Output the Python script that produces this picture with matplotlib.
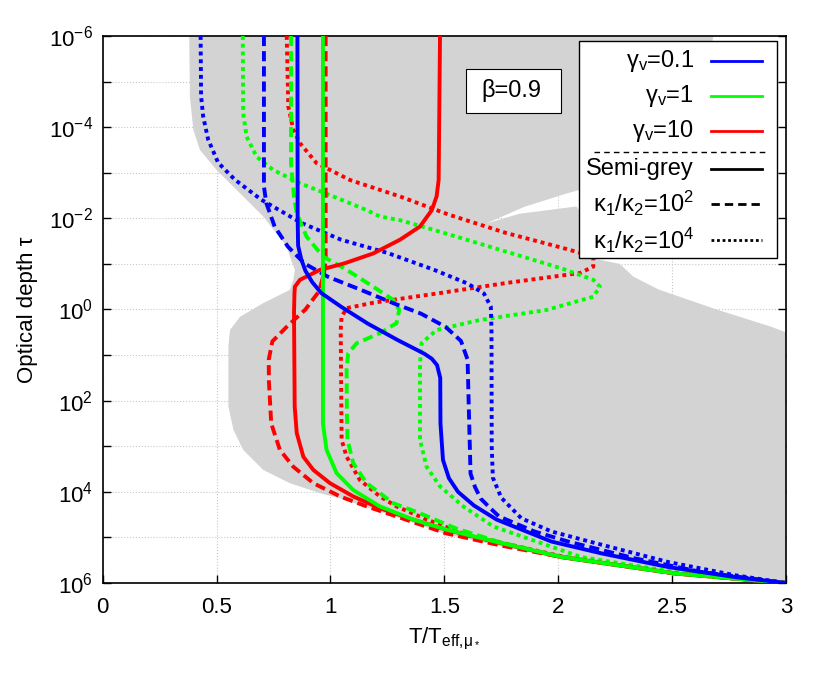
import matplotlib
matplotlib.use("Agg")
import matplotlib.pyplot as plt
import numpy as np
from matplotlib.patches import Rectangle
from matplotlib.ticker import FixedLocator, FuncFormatter, NullLocator

plt.rcParams['font.family'] = ['Liberation Sans', 'DejaVu Sans']
plt.rcParams['mathtext.fontset'] = 'custom'
plt.rcParams['mathtext.rm'] = 'Liberation Sans'
plt.rcParams['mathtext.it'] = 'Liberation Sans:italic'
plt.rcParams['mathtext.bf'] = 'Liberation Sans:bold'

# --- data: T/Teff and log10(tau) ---
# gamma_v = 0.1 (blue)
blue_solid_T = [0.855, 0.856, 0.858, 0.872, 0.89, 0.92, 0.96, 1.047, 1.164, 1.295, 1.412, 1.445, 1.468,
                1.482, 1.483, 1.494, 1.52, 1.56, 1.63, 1.73, 1.85, 1.97, 2.19, 2.483, 2.777, 3.0]
blue_solid_L = [-6, -2.0, -1.4, -1.1, -0.85, -0.6, -0.36, -0.06, 0.31, 0.67, 0.97, 1.08, 1.22,
                1.5, 2.5, 3.3, 3.7, 4.0, 4.3, 4.61, 4.85, 5.09, 5.35, 5.65, 5.87, 6.0]
blue_dash_T = [0.708, 0.708, 0.718, 0.755, 0.813, 0.886, 0.988, 1.134, 1.28, 1.397, 1.505, 1.573,
               1.602, 1.608, 1.615, 1.635, 1.66, 1.7, 1.74, 1.896, 2.043, 2.337, 2.63, 3.0]
blue_dash_L = [-6, -2.7, -2.34, -1.82, -1.38, -1.01, -0.72, -0.43, -0.13, 0.09, 0.38, 0.69,
               1.1, 2.27, 3.6, 3.9, 4.15, 4.35, 4.54, 4.87, 5.09, 5.46, 5.76, 6.0]
blue_dot_T = [0.43, 0.432, 0.441, 0.463, 0.507, 0.58, 0.696, 0.872, 1.047, 1.251, 1.455, 1.602,
              1.674, 1.704, 1.707, 1.708, 1.713, 1.75, 1.838, 1.97, 2.19, 2.483, 2.777, 3.0]
blue_dot_L = [-6, -4.69, -4.24, -3.73, -3.22, -2.85, -2.41, -1.9, -1.53, -1.24, -0.87, -0.57,
              -0.35, -0.06, 0.45, 3.0, 3.69, 4.13, 4.58, 4.87, 5.16, 5.54, 5.83, 6.0]

# gamma_v = 1 (green)
green_solid_T = [0.967, 0.967, 0.983, 1.027, 1.1, 1.217, 1.364, 1.51, 1.73, 2.014, 2.513, 3.0]
green_solid_L = [-6, 2.5, 3.08, 3.59, 3.96, 4.32, 4.61, 4.83, 5.1, 5.43, 5.79, 6.0]
green_dash_T = [0.827, 0.827, 0.84, 0.852, 0.895, 0.968, 1.071, 1.188, 1.276, 1.302, 1.29, 1.217,
                1.115, 1.078, 1.071, 1.072, 1.075, 1.1, 1.159, 1.276, 1.393, 1.55, 1.74, 2.02, 2.52, 3.0]
green_dash_L = [-6, -3.2, -2.47, -2.11, -1.6, -1.16, -0.87, -0.5, -0.21, 0.01, 0.3, 0.52,
                0.74, 0.96, 1.3, 2.27, 2.86, 3.37, 3.81, 4.25, 4.47, 4.8, 5.1, 5.43, 5.79, 6.0]
green_dot_T = [0.615, 0.617, 0.632, 0.676, 0.749, 0.866, 1.012, 1.159, 1.217, 1.305, 1.451, 1.598,
               1.744, 1.89, 2.015, 2.154, 2.183, 2.154, 1.949, 1.656, 1.466, 1.4, 1.393, 1.393,
               1.422, 1.481, 1.583, 1.715, 1.893, 2.1, 2.55, 3.0]
green_dot_L = [-6, -4.3, -3.79, -3.35, -3.06, -2.77, -2.48, -2.18, -2.04, -1.96, -1.75, -1.53,
               -1.31, -1.09, -0.9, -0.65, -0.5, -0.28, 0.01, 0.23, 0.45, 0.74, 1.2, 2.86,
               3.45, 3.88, 4.32, 4.76, 5.07, 5.43, 5.79, 6.0]

# gamma_v = 10 (red)
red_solid_T = [1.481, 1.475, 1.466, 1.445, 1.393, 1.305, 1.188, 1.06, 0.954, 0.866, 0.844, 0.842,
               0.84, 0.843, 0.852, 0.881, 0.925, 0.998, 1.1, 1.217, 1.364, 1.51, 1.656, 2.01, 2.51, 3.0]
red_solid_L = [-6, -2.84, -2.48, -2.18, -1.82, -1.53, -1.23, -1.01, -0.87, -0.65, -0.5, -0.36,
               0.07, 2.13, 2.71, 3.23, 3.52, 3.81, 4.1, 4.36, 4.61, 4.83, 5.02, 5.43, 5.79, 6.0]
red_dash_T = [0.979, 0.979, 0.972, 0.95, 0.89, 0.81, 0.745, 0.729, 0.73, 0.74, 0.778, 0.837,
              0.925, 1.042, 1.159, 1.29, 1.507, 1.75, 2.014, 2.513, 3.0]
red_dash_L = [-6, -1.1, -0.8, -0.4, 0.0, 0.37, 0.7, 1.1, 1.6, 2.5, 3.08, 3.45,
              3.81, 4.1, 4.32, 4.54, 4.91, 5.18, 5.43, 5.79, 6.0]
red_dot_T = [0.808, 0.815, 0.837, 0.866, 0.939, 1.086, 1.305, 1.52, 1.77, 2.02, 2.154, 2.154,
             2.095, 1.77, 1.48, 1.19, 1.071, 1.049, 1.045, 1.049, 1.071, 1.129, 1.217, 1.29,
             1.42, 1.6, 2.03, 2.52, 3.0]
red_dot_L = [-6, -4.45, -3.94, -3.65, -3.21, -2.84, -2.48, -2.08, -1.68, -1.35, -1.16, -0.94,
             -0.8, -0.58, -0.36, -0.15, -0.03, 0.16, 0.45, 2.86, 3.23, 3.74, 4.1, 4.32,
             4.6, 4.95, 5.43, 5.79, 6.0]

# grey envelope region
grey_T = [0.38, 0.383, 0.398, 0.427, 0.5, 0.603, 0.705, 0.808, 0.83, 0.844, 0.837, 0.822, 0.705,
          0.603, 0.559, 0.552, 0.552, 0.574, 0.617, 0.705, 0.822, 0.954, 1.04, 1.16, 1.305, 1.507,
          1.75, 2.014, 2.25, 2.513, 2.75, 3.0, 3.0, 2.93, 2.695, 2.44, 2.33, 2.27, 2.154, 2.15,
          2.13, 2.08, 1.83, 1.686, 1.85, 2.04, 2.3, 2.55, 2.65, 2.68]
grey_L = [-6, -4.67, -3.94, -3.5, -3.06, -2.55, -2.04, -1.38, -1.05, -0.87, -0.65, -0.43, -0.14,
          0.16, 0.45, 0.81, 2.13, 2.64, 3.08, 3.52, 3.81, 4.03, 4.14, 4.34, 4.58, 4.93,
          5.2, 5.45, 5.64, 5.81, 5.92, 6.0, 0.5, 0.37, 0.0, -0.44, -0.72, -1.0, -1.12, -1.5,
          -1.9, -2.26, -2.1, -1.89, -2.25, -2.55, -2.9, -3.5, -4.5, -6]

gamma_labels = ["γ$_\\mathrm{v}$=0.1", "γ$_\\mathrm{v}$=1", "γ$_\\mathrm{v}$=10"]
style_labels = ["Semi-grey", "κ$_1$/κ$_2$=10$^2$", "κ$_1$/κ$_2$=10$^4$"]

colors = ['#0000ff', '#00ff00', '#ff0000']
dash = (0, (2.6, 1.3))
dot = (0, (1.0, 1.0))
lw = 2.8

fig = plt.figure(figsize=(8.3, 6.92), dpi=100)
ax = fig.add_axes([0.1237, 0.1575, 0.8233, 0.7905])

ax.fill(grey_T, 10.0 ** np.array(grey_L), color='#d3d3d3', lw=0, zorder=1)

curves = [
    (red_dot_T, red_dot_L, colors[2], dot),
    (green_dot_T, green_dot_L, colors[1], dot),
    (blue_dot_T, blue_dot_L, colors[0], dot),
    (red_dash_T, red_dash_L, colors[2], dash),
    (green_dash_T, green_dash_L, colors[1], dash),
    (blue_dash_T, blue_dash_L, colors[0], dash),
    (red_solid_T, red_solid_L, colors[2], '-'),
    (green_solid_T, green_solid_L, colors[1], '-'),
    (blue_solid_T, blue_solid_L, colors[0], '-'),
]
for T, L, c, ls in curves:
    ax.plot(T, 10.0 ** np.array(L), color=c, linestyle=ls, lw=lw, zorder=3,
            solid_joinstyle='round', dash_joinstyle='round')

ax.set_yscale('log')
ax.set_xlim(0, 3)
ax.set_ylim(1e6, 1e-6)
ax.yaxis.set_major_locator(FixedLocator([10.0 ** k for k in range(-6, 7)]))
ax.yaxis.set_major_formatter(FuncFormatter(
    lambda v, p: '$10^{%d}$' % round(np.log10(v)) if round(np.log10(v)) % 2 == 0 else ''))
ax.yaxis.set_minor_locator(NullLocator())
ax.set_xticks([0, 0.5, 1, 1.5, 2, 2.5, 3])
ax.set_xticklabels(['0', '0.5', '1', '1.5', '2', '2.5', '3'])
ax.tick_params(axis='both', direction='in', length=6, width=1, labelsize=16)
ax.tick_params(axis='y', right=True, pad=7)
ax.tick_params(axis='x', top=False, pad=10)
ax.grid(True, color='#c8c8c8', linestyle=':', lw=0.8)
ax.set_axisbelow(True)
for s in ax.spines.values():
    s.set_linewidth(1.2)

ax.set_xlabel("T/T$_{\\mathrm{eff{,}μ_*}}$", fontsize=16, labelpad=6)
ax.set_ylabel("Optical depth τ", fontsize=16, labelpad=8)

# beta box
ax.add_patch(Rectangle((0.532, 0.859), 0.139, 0.081, transform=ax.transAxes,
                       facecolor='white', edgecolor='black', lw=0.8, zorder=5))
ax.text(0.5976, 0.8995, "β=0.9", transform=ax.transAxes, ha='center', va='center',
        fontsize=17, zorder=6)

# legend
ax.add_patch(Rectangle((0.697, 0.594), 0.29, 0.397, transform=ax.transAxes,
                       facecolor='white', edgecolor='black', lw=1.0, zorder=5))
rows_y = [0.954, 0.890, 0.826]
for y, lab, c in zip(rows_y, gamma_labels, colors):
    ax.text(0.8653, y, lab, transform=ax.transAxes, ha='right', va='center', fontsize=17, zorder=6)
    ax.plot([0.8903, 0.9649], [y, y], transform=ax.transAxes, color=c, lw=2, zorder=6)
ax.plot([0.719, 0.972], [0.788, 0.788], transform=ax.transAxes, color='black', lw=1,
        linestyle=(0, (4, 3)), zorder=6)
rows_y2 = [0.757, 0.693, 0.627]
for y, lab, ls in zip(rows_y2, style_labels, ['-', (0, (3, 1.8)), (0, (1, 1))]):
    ax.text(0.8653, y, lab, transform=ax.transAxes, ha='right', va='center', fontsize=17, zorder=6)
    ax.plot([0.8903, 0.9649], [y, y], transform=ax.transAxes, color='black', lw=2,
            linestyle=ls, zorder=6)

fig.savefig("out.png", dpi=100)
